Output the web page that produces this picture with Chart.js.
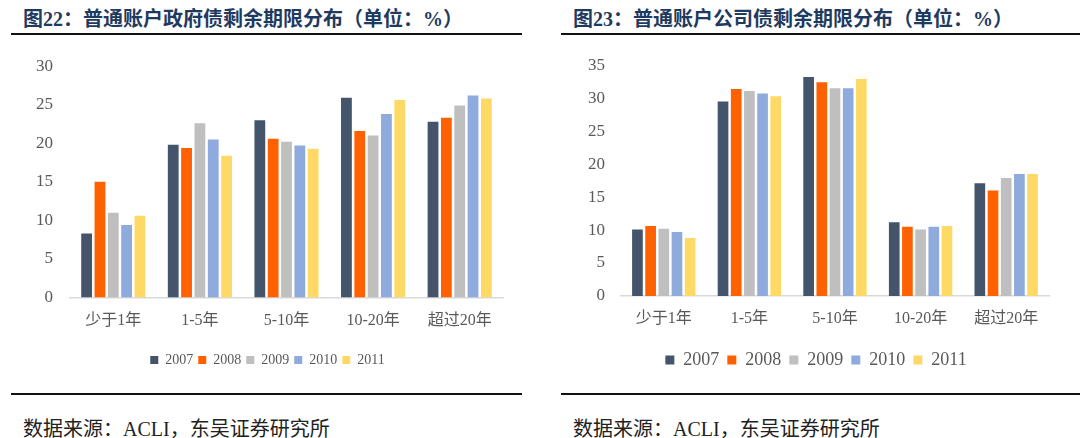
<!DOCTYPE html>
<html>
<head>
<meta charset="utf-8">
<script src="https://cdn.jsdelivr.net/npm/chart.js@4.4.0/dist/chart.umd.min.js"></script>
<style>
    body { margin: 0; background: #fff; width: 1080px; height: 438px; overflow: hidden; position: relative; }
    .title { position: absolute; top: 3px; font: bold 20px 'Liberation Serif', 'Noto Sans CJK SC', sans-serif; color: #1f3a5f; white-space: nowrap; }
    .rule { position: absolute; height: 2px; background: #111; }
    .source { position: absolute; top: 413px; font: 20px 'Liberation Serif', 'Noto Sans CJK SC', serif; color: #222; white-space: nowrap; }
    .box { position: absolute; top: 39px; height: 340px; overflow: hidden; }
</style>
</head>
<body>
<div class="title" style="left:23px">图22：普通账户政府债剩余期限分布（单位：%）</div>
<div class="title" style="left:573px">图23：普通账户公司债剩余期限分布（单位：%）</div>
<div class="rule" style="left:11px; width:511px; top:33px"></div>
<div class="rule" style="left:561px; width:519px; top:33px"></div>

<div class="box" style="left:0; width:535px"><canvas id="govtChart"></canvas></div>
<div class="box" style="left:540px; width:540px"><canvas id="corpChart"></canvas></div>

<div class="rule" style="left:11px; width:511px; top:393px"></div>
<div class="rule" style="left:561px; width:519px; top:393px"></div>
<div class="source" style="left:23px">数据来源：ACLI，东吴证券研究所</div>
<div class="source" style="left:573px">数据来源：ACLI，东吴证券研究所</div>

<script>
const categories = ['少于1年', '1-5年', '5-10年', '10-20年', '超过20年'];
const years = ['2007', '2008', '2009', '2010', '2011'];

// 政府债 (%), one array per year
const govt2007 = [8.3, 19.8, 23.0, 25.9, 22.8];
const govt2008 = [15.0, 19.4, 20.6, 21.6, 23.3];
const govt2009 = [11.0, 22.6, 20.2, 21.0, 24.9];
const govt2010 = [9.4, 20.5, 19.7, 23.8, 26.2];
const govt2011 = [10.6, 18.4, 19.3, 25.6, 25.8];

// 公司债 (%)
const corp2007 = [10.1, 29.5, 33.2, 11.2, 17.1];
const corp2008 = [10.6, 31.4, 32.4, 10.5, 16.0];
const corp2009 = [10.2, 31.1, 31.5, 10.1, 17.9];
const corp2010 = [9.7, 30.7, 31.5, 10.5, 18.5];
const corp2011 = [8.8, 30.3, 32.9, 10.6, 18.5];

const govtTicks = [0, 5, 10, 15, 20, 25, 30];
const corpTicks = [0, 5, 10, 15, 20, 25, 30, 35];

const seriesColors = ['#44546a', '#ff6000', '#bfbfbf', '#8faadc', '#ffd966'];

function buildChart(id, seriesList, ticks, cfg) {
    const ctx = document.getElementById(id);
    ctx.width = cfg.width;
    ctx.height = 340;
    return new Chart(ctx, {
        type: 'bar',
        data: {
            labels: categories,
            datasets: seriesList.map((values, i) => ({
                label: years[i],
                data: values,
                backgroundColor: seriesColors[i],
                borderWidth: 0,
                categoryPercentage: 0.77,
                barPercentage: 0.81
            }))
        },
        options: {
            responsive: false,
            animation: false,
            devicePixelRatio: 1,
            layout: {
                // top gap comes from tick label height + tick padding
                padding: { top: 10, right: cfg.pad, left: cfg.pad, bottom: cfg.padBottom }
            },
            scales: {
                y: {
                    min: 0,
                    max: ticks[ticks.length - 1],
                    afterBuildTicks: (scale) => { scale.ticks = ticks.map(v => ({ value: v })); },
                    afterFit: (scale) => { scale.width = cfg.yWidth; },
                    grid: { display: false, drawTicks: false },
                    border: { display: false },
                    ticks: {
                        padding: cfg.yPad,
                        color: '#595959',
                        font: { family: "'Liberation Serif', serif", size: 17 }
                    }
                },
                x: {
                    afterFit: (scale) => { scale.height = cfg.xHeight; },
                    grid: { display: false, drawTicks: false },
                    border: { display: true, color: '#d9d9d9', width: 1.5 },
                    ticks: {
                        padding: cfg.xPad,
                        color: '#595959',
                        font: { family: "'Liberation Serif', 'Noto Sans CJK SC', serif", size: 16 }
                    }
                }
            },
            plugins: {
                tooltip: { enabled: false },
                legend: {
                    position: 'bottom',
                    labels: {
                        boxWidth: cfg.box,
                        boxHeight: cfg.box,
                        padding: cfg.legendPad,
                        color: '#595959',
                        font: { family: "'Liberation Serif', serif", size: cfg.legendFont }
                    }
                }
            }
        }
    });
}

buildChart('govtChart', [govt2007, govt2008, govt2009, govt2010, govt2011], govtTicks, {
    width: 535, pad: 32, padBottom: 2, yWidth: 38, yPad: 17,
    xHeight: 50.5, xPad: 14, box: 8, legendPad: 5, legendFont: 14
});
buildChart('corpChart', [corp2007, corp2008, corp2009, corp2010, corp2011], corpTicks, {
    width: 552, pad: 43, padBottom: 0, yWidth: 38, yPad: 16,
    xHeight: 47, xPad: 13, box: 9, legendPad: 8, legendFont: 18
});
</script>
</body>
</html>
